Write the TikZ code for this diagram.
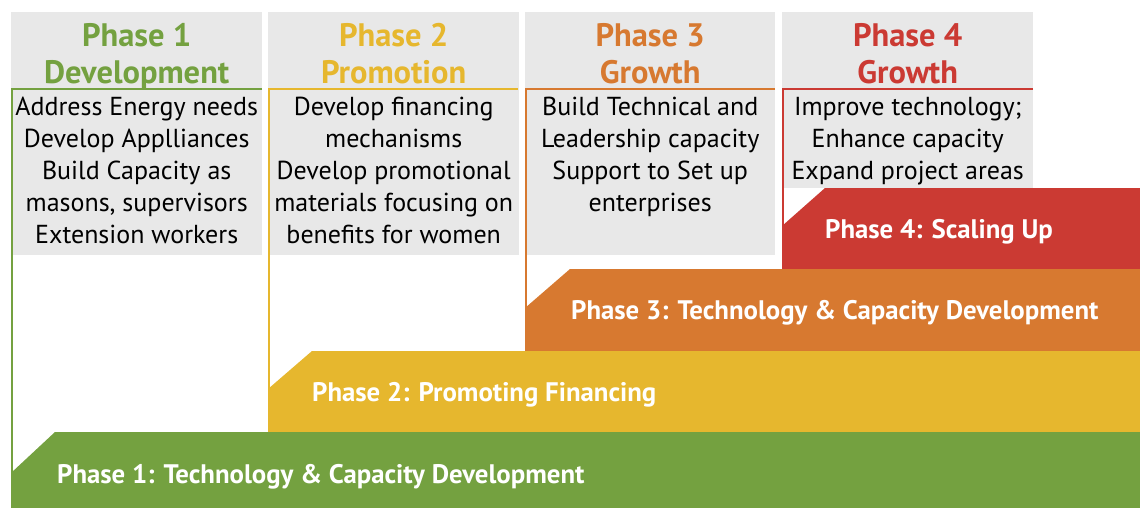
\documentclass[tikz,border=0pt]{standalone}
\usepackage{fontspec}
\setmainfont{PT Sans}
\usetikzlibrary{positioning}

\definecolor{phaseone}{RGB}{116,161,64}
\definecolor{phasetwo}{RGB}{230,183,46}
\definecolor{phasethree}{RGB}{215,121,48}
\definecolor{phasefour}{RGB}{203,58,51}
\definecolor{boxgray}{RGB}{232,232,232}

\tikzset{
  graybox/.style={rectangle, fill=boxgray, anchor=north west, inner sep=0pt, minimum width=251pt},
  head/.style={font=\fontsize{32.5}{37}\selectfont\bfseries, align=center, inner sep=0pt, anchor=north},
  body/.style={font=\fontsize{26}{32}\selectfont, align=center, inner sep=0pt, anchor=north},
  steplabel/.style={font=\fontsize{26.8}{30}\selectfont\bfseries, text=white, anchor=base west, inner sep=0pt},
  phaseline/.style={line width=2pt},
}

\begin{document}
\begin{tikzpicture}[x=1pt,y=-1pt]
  \useasboundingbox (0,0) rectangle (1140,508);

  % gray boxes
  \node[graybox, minimum height=243pt] (g1) at (11,12) {};
  \node[graybox, minimum height=243pt] (g2) at (268,12) {};
  \node[graybox, minimum height=243pt, minimum width=250pt] (g3) at (525,12) {};
  \node[graybox, minimum height=176pt] (g4) at (782,12) {};

  % headers
  \node[head, text=phaseone, below=11.5pt of g1.north] (h1) {Phase 1\\Development};
  \node[head, text=phasetwo, below=11.5pt of g2.north] (h2) {Phase 2\\Promotion};
  \node[head, text=phasethree, below=11.5pt of g3.north] (h3) {Phase 3\\Growth};
  \node[head, text=phasefour, below=11.5pt of g4.north] (h4) {Phase 4\\Growth};

  % activities
  \node[body, below=85pt of g1.north] (b1) {Address Energy needs\\Develop Applliances\\Build Capacity as\\masons, supervisors\\Extension workers};
  \node[body, below=85pt of g2.north] (b2) {Develop financing\\mechanisms\\Develop promotional\\materials focusing on\\benefits for women};
  \node[body, below=85pt of g3.north] (b3) {Build Technical and\\Leadership capacity\\Support to Set up\\enterprises};
  \node[body, below=85pt of g4.north] (b4) {Improve technology;\\Enhance capacity\\Expand project areas};

  % phase lines
  \draw[phaseline, phaseone] (262,89) -- (12,89) -- (12,473);
  \draw[phaseline, phasetwo] (518,89) -- (269,89) -- (269,432);
  \draw[phaseline, phasethree] (775,89) -- (526,89) -- (526,351);
  \draw[phaseline, phasefour] (1033,89) -- (783,89) -- (783,269);

  % steps
  \fill[phasefour] (782,226) -- (825,188) -- (1140,188) -- (1140,269) -- (782,269) -- cycle;
  \fill[phasethree] (525,308) -- (570,269) -- (1140,269) -- (1140,351) -- (525,351) -- cycle;
  \fill[phasetwo] (268,389) -- (312,351) -- (1140,351) -- (1140,432) -- (268,432) -- cycle;
  \fill[phaseone] (11,473) -- (55,432) -- (1140,432) -- (1140,508) -- (11,508) -- cycle;

  \node[steplabel] (s4) at (825,238) {Phase 4: Scaling Up};
  \node[steplabel] (s3) at (571,319) {Phase 3: Technology \& Capacity Development};
  \node[steplabel] (s2) at (312,401) {Phase 2: Promoting Financing};
  \node[steplabel] (s1) at (57,483) {Phase 1: Technology \& Capacity Development};
\end{tikzpicture}
\end{document}
